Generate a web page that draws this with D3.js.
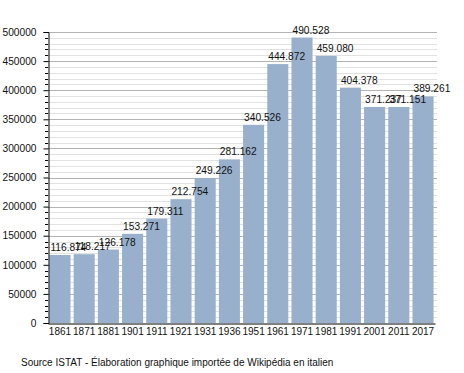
<!DOCTYPE html>
<html>
<head>
<meta charset="utf-8">
<script src="https://cdn.jsdelivr.net/npm/d3@7"></script>
<style>
  body { margin: 0; background: #fff; }
  text { font-family: "Liberation Sans", Arial, sans-serif; fill: #111; }
</style>
</head>
<body>
<svg width="464" height="373"></svg>
<script>
/* ---------- data ---------- */
var years = ['1861','1871','1881','1901','1911','1921','1931','1936','1951','1961','1971','1981','1991','2001','2011','2017'];
var population = [116874, 118217, 126178, 153271, 179311, 212754, 249226, 281162, 340526, 444872, 490528, 459080, 404378, 371237, 371151, 389261];
var valueLabels = ['116.874','118.217','126.178','153.271','179.311','212.754','249.226','281.162','340.526','444.872','490.528','459.080','404.378','371.237','371.151','389.261'];
var yTicks = [0, 50000, 100000, 150000, 200000, 250000, 300000, 350000, 400000, 450000, 500000];
var sourceText = 'Source ISTAT - Élaboration graphique importée de Wikipédia en italien';

/* ---------- layout ---------- */
// note: "top" is reserved on window, so use plot_* names
var plot_left = 48, plot_right = 435, plot_top = 32, plot_bottom = 323;
var svg = d3.select('svg');

var x = d3.scaleBand()
  .domain(years)
  .range([plot_left, plot_right])
  .paddingInner(0.13)
  .paddingOuter(0.06);

var y = d3.scaleLinear()
  .domain([0, 500000])
  .range([plot_bottom, plot_top]);

var minor = d3.range(0, 500001, 10000).filter(function (v) { return v % 50000 !== 0; });
function ypx(d) { return Math.round(y(d)) + 0.5; }

// minor grid every 10000
svg.append('g')
  .selectAll('line')
  .data(minor)
  .join('line')
  .attr('x1', plot_left).attr('x2', plot_right + 2)
  .attr('y1', ypx).attr('y2', ypx)
  .attr('stroke', '#e2e2e2');

// major grid
svg.append('g')
  .selectAll('line')
  .data(yTicks.slice(1))
  .join('line')
  .attr('x1', plot_left).attr('x2', plot_right + 2)
  .attr('y1', ypx).attr('y2', ypx)
  .attr('stroke', '#b4b4b4');

// bars
svg.append('g')
  .selectAll('rect')
  .data(population)
  .join('rect')
  .attr('x', function (d, i) { return x(years[i]); })
  .attr('width', x.bandwidth())
  .attr('y', function (d) { return y(d); })
  .attr('height', function (d) { return plot_bottom - y(d); })
  .attr('fill', '#98b0cc');

// value labels (left aligned on bar)
svg.append('g')
  .selectAll('text')
  .data(population)
  .join('text')
  .attr('x', function (d, i) { return x(years[i]) + 1; })
  .attr('y', function (d) { return y(d) - 4; })
  .attr('font-size', 10.2)
  .text(function (d, i) { return valueLabels[i]; });

// y axis with minor ticks
var yAxis = d3.axisLeft(y).tickValues(yTicks).tickSize(5).tickFormat(d3.format('d'));
var gy = svg.append('g')
  .attr('transform', 'translate(' + (plot_left + 0.5) + ',0)')
  .call(yAxis);
gy.select('.domain').attr('stroke', '#000');
gy.selectAll('text').attr('font-size', 10.2).attr('font-family', '"Liberation Sans", Arial, sans-serif').attr('x', -12);

svg.append('g')
  .selectAll('line')
  .data(minor)
  .join('line')
  .attr('x1', plot_left - 3).attr('x2', plot_left)
  .attr('y1', ypx).attr('y2', ypx)
  .attr('stroke', '#000');

// x axis
var xAxis = d3.axisBottom(x).tickSize(0).tickPadding(4);
var gx = svg.append('g')
  .attr('transform', 'translate(0,' + (plot_bottom + 0.5) + ')')
  .call(xAxis);
gx.select('.domain').attr('stroke', '#000');
gx.selectAll('text').attr('font-size', 10).attr('font-family', '"Liberation Sans", Arial, sans-serif');

// source note
svg.append('text')
  .attr('x', 21)
  .attr('y', 366)
  .attr('font-size', 10)
  .text(sourceText);
</script>
</body>
</html>
